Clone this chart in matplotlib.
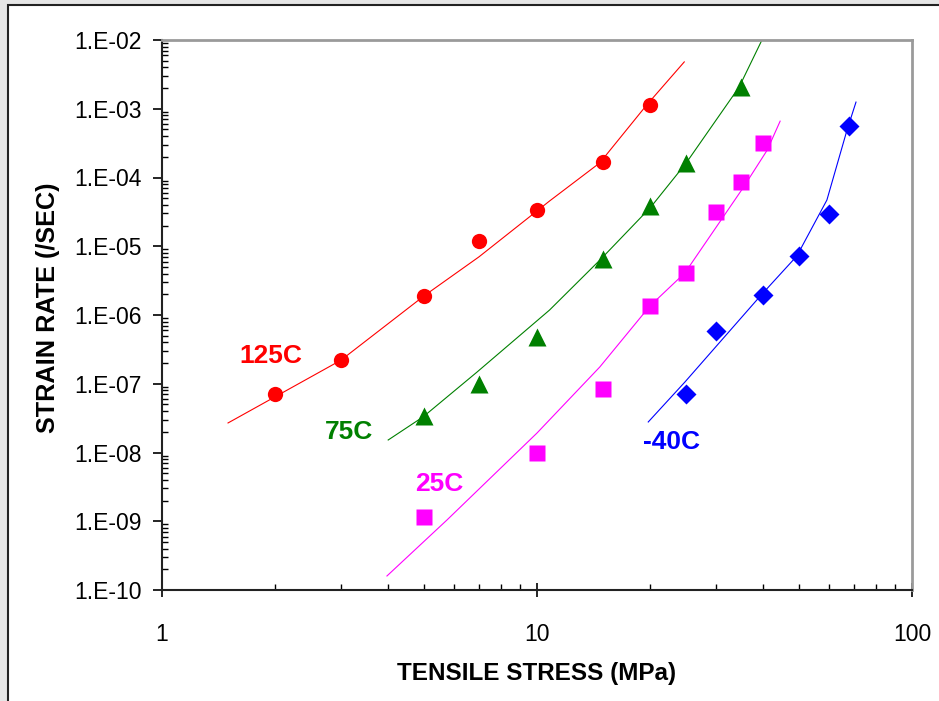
import matplotlib
matplotlib.use("Agg")
import matplotlib.pyplot as plt
from matplotlib.patches import Rectangle
from matplotlib.ticker import LogLocator, NullFormatter, FixedLocator

plt.rcParams['font.family'] = ['Liberation Sans', 'DejaVu Sans']

# measured points
stress_125 = [2, 3, 5, 7, 10, 15, 20]
rate_125 = [7.1e-8, 2.2e-7, 1.9e-6, 1.2e-5, 3.4e-5, 1.68e-4, 1.13e-3]
stress_75 = [5, 7, 10, 15, 20, 25, 35]
rate_75 = [3.4e-8, 9.9e-8, 4.8e-7, 6.5e-6, 3.8e-5, 1.6e-4, 2.07e-3]
stress_25 = [5, 10, 15, 20, 25, 30, 35, 40]
rate_25 = [1.15e-9, 9.8e-9, 8.4e-8, 1.35e-6, 4.1e-6, 3.15e-5, 8.6e-5, 3.2e-4]
stress_m40 = [25, 30, 40, 50, 60, 68]
rate_m40 = [7.1e-8, 5.85e-7, 1.95e-6, 7.2e-6, 2.9e-5, 5.6e-4]

# fitted curves
fit_x_125 = [1.5, 3, 5, 7, 10.8, 14.7, 19.6, 24.7]
fit_y_125 = [2.69e-8, 2.2e-7, 1.9e-6, 7e-6, 4.55e-5, 1.63e-4, 1.13e-3, 4.8e-3]
fit_x_75 = [4.01, 4.97, 6.92, 10.8, 14.8, 20.1, 25, 34.6, 39.8]
fit_y_75 = [1.52e-8, 3.3e-8, 1.48e-7, 1.18e-6, 6.5e-6, 3.7e-5, 1.63e-4, 2.07e-3, 1e-2]
fit_x_25 = [3.98, 5.75, 10, 14.7, 20, 24.8, 35.4, 41.1, 44.5]
fit_y_25 = [1.6e-10, 1.04e-9, 1.92e-8, 1.75e-7, 1.35e-6, 4.1e-6, 7.0e-5, 2.5e-4, 6.6e-4]
fit_x_m40 = [19.8, 24.8, 39.6, 49.3, 59.3, 67.1, 70.9]
fit_y_m40 = [2.78e-8, 1.06e-7, 1.95e-6, 7.2e-6, 4.7e-5, 4.9e-4, 1.25e-3]

y_ticks = [1e-10, 1e-9, 1e-8, 1e-7, 1e-6, 1e-5, 1e-4, 1e-3, 1e-2]
y_labels = ['1.E-10', '1.E-09', '1.E-08', '1.E-07', '1.E-06', '1.E-05', '1.E-04', '1.E-03', '1.E-02']
x_ticks = [1, 10, 100]
x_labels = ['1', '10', '100']

fig = plt.figure(figsize=(9.39, 7.01), dpi=100)
fig.patch.set_facecolor('#e6e6e6')
fig.patches.append(Rectangle((7.5 / 939, -0.1), 1.2, 1 - 4.5 / 701 + 0.1,
                             transform=fig.transFigure, facecolor='white',
                             edgecolor='#222222', linewidth=1.5, zorder=-10))

ax = fig.add_axes([162 / 939, 1 - 590 / 701, 750 / 939, 550 / 701])
ax.set_zorder(5)
ax.patch.set_alpha(0)
ax.set_xscale('log')
ax.set_yscale('log')
ax.set_xlim(1, 100)
ax.set_ylim(1e-10, 1e-2)

ax.plot(fit_x_125, fit_y_125, color='#ff0000', lw=0.8)
ax.plot(fit_x_75, fit_y_75, color='#008000', lw=0.8)
ax.plot(fit_x_25, fit_y_25, color='#ff00ff', lw=0.8)
ax.plot(fit_x_m40, fit_y_m40, color='#0000ff', lw=0.8)

ax.plot(stress_125, rate_125, 'o', color='#ff0000', ms=11, mec='none')
ax.plot(stress_75, rate_75, '^', color='#008000', ms=13, mec='none')
ax.plot(stress_25, rate_25, 's', color='#ff00ff', ms=12, mec='none')
ax.plot(stress_m40, rate_m40, 'D', color='#0000ff', ms=10.5, mec='none')

lab = dict(fontsize=19, fontweight='bold', ha='center', va='center')
ax.text(1.95, 2.5e-7, '125C', color='#ff0000', **lab)
ax.text(3.15, 2.0e-8, '75C', color='#008000', **lab)
ax.text(5.5, 3.5e-9, '25C', color='#ff00ff', **lab)
ax.text(22.9, 1.42e-8, '-40C', color='#0000ff', **lab)

ax.yaxis.set_major_locator(FixedLocator(y_ticks))
ax.set_yticklabels(y_labels)
ax.xaxis.set_major_locator(FixedLocator(x_ticks))
ax.set_xticklabels(x_labels)
ax.xaxis.set_minor_locator(LogLocator(base=10, subs=range(2, 10)))
ax.yaxis.set_minor_locator(LogLocator(base=10, subs=range(2, 10), numticks=20))
ax.xaxis.set_minor_formatter(NullFormatter())
ax.yaxis.set_minor_formatter(NullFormatter())

ax.tick_params(axis='y', which='major', direction='out', length=6.5, width=1.2,
               labelsize=16.5, pad=8)
ax.tick_params(axis='y', which='minor', direction='in', length=4.5, width=1)
ax.tick_params(axis='x', which='major', direction='inout', length=10, width=1.2,
               labelsize=16.5, pad=19)
ax.tick_params(axis='x', which='minor', direction='in', length=4.5, width=1)

for s in ['left', 'bottom']:
    ax.spines[s].set_color('#222222')
    ax.spines[s].set_linewidth(1.5)
for s in ['top', 'right']:
    ax.spines[s].set_color('#9a9a9a')
    ax.spines[s].set_linewidth(2)

ax.set_xlabel('TENSILE STRESS (MPa)', fontsize=17.5, fontweight='bold', labelpad=11)
ax.set_ylabel('STRAIN RATE (/SEC)', fontsize=18.2, fontweight='bold')
ax.yaxis.set_label_coords(-0.136, 0.513)

fig.savefig('out.png', dpi=100, facecolor=fig.get_facecolor())
